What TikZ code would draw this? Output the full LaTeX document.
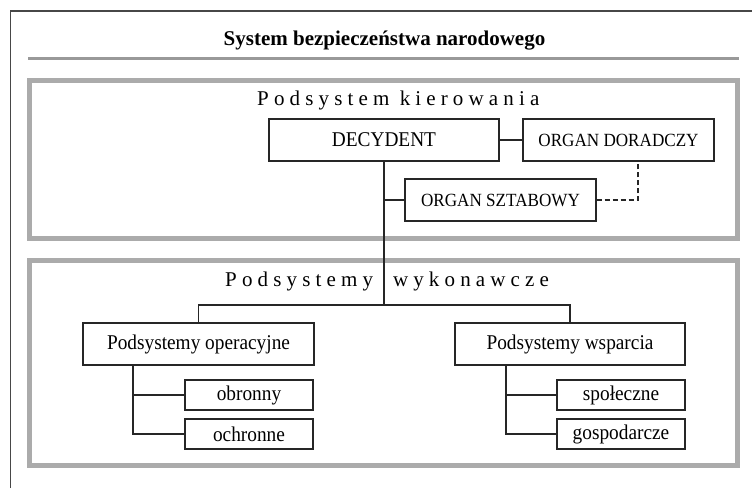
\documentclass[tikz,border=0pt]{standalone}
\usepackage{fontspec}
\setmainfont{Liberation Serif}
\newfontfamily\spaced[LetterSpace=24.5]{Liberation Serif}
\newfontfamily\boxfont[FakeStretch=0.92]{Liberation Serif}
\begin{document}
\begin{tikzpicture}[x=1pt,y=-1pt,
  box/.style={draw=black!85,line width=1.1pt,inner sep=0pt,font=\boxfont\fontsize{21}{24}\selectfont},
  capbox/.style={box,font=\boxfont\fontsize{18.6}{21}\selectfont},
  subbox/.style={box,minimum width=128pt,minimum height=30pt},
  conn/.style={draw=black!85,line width=1.1pt},
  dashconn/.style={conn,dash pattern=on 5pt off 3pt},
  grayframe/.style={draw=black!33,line width=5pt},
  titleline/.style={draw=black!40,line width=2.6pt},
  outerframe/.style={draw=black!72,line width=1.4pt}]
\useasboundingbox (0,0) rectangle (752,488);
% frames
\draw[outerframe] (10.5,488) -- (10.5,11) -- (752,11);
\draw[titleline] (28,58.5) -- (739,58.5);
\draw[grayframe] (29.5,80.5) rectangle (737.5,238.5);
\draw[grayframe] (29.5,260.5) rectangle (737.5,465);
% texts
\node[anchor=base,font=\bfseries\fontsize{21}{24}\selectfont] (title) at (384.5,45) {System bezpiecze\'nstwa narodowego};
\node[anchor=base west,inner sep=0pt,font=\fontsize{21}{24}\selectfont] (kier) at (257,105) {\spaced Podsystem kierowania};
\node[anchor=base west,inner sep=0pt,font=\fontsize{21}{24}\selectfont] (wyk) at (225,286) {{\spaced Podsystemy}\hspace{20pt}{\spaced wykonawcze}};
% boxes
\node[box,minimum width=230pt,minimum height=42pt] (dec) at (384,140) {DECYDENT};
\node[capbox,minimum width=191pt,minimum height=42pt] (dor) at (618.5,140) {ORGAN DORADCZY};
\node[capbox,minimum width=191pt,minimum height=42pt] (szt) at (500.5,200) {ORGAN SZTABOWY};
\node[box,minimum width=231pt,minimum height=42pt] (ope) at (198.5,344) {Podsystemy operacyjne};
\node[box,minimum width=230pt,minimum height=42pt] (wsp) at (570,344) {Podsystemy wsparcia};
\node[subbox] (obr) at (249,395) {obronny};
\node[subbox] (och) at (249,434) {ochronne};
\node[subbox] (spo) at (621,395) {spo\l{}eczne};
\node[subbox] (gos) at (621,434) {gospodarcze};
% helper coordinates
\coordinate (jn) at (384,305);
\coordinate (dk) at (638,161);
\coordinate (lv) at (133,365);
\coordinate (rv) at (506,365);
% connectors
\draw[conn] (dec.east) -- (dor.west);
\draw[conn] (dec.south) -- (jn);
\draw[conn] (szt.west) -- (szt.west -| dec.south);
\draw[dashconn] (szt.east) -| (dk);
\draw[conn] (ope.north) |- (jn) -| (wsp.north);
\draw[conn] (lv) |- (och.west);
\draw[conn] (obr.west) -- (obr.west -| lv);
\draw[conn] (rv) |- (gos.west);
\draw[conn] (spo.west) -- (spo.west -| rv);
\end{tikzpicture}
\end{document}
